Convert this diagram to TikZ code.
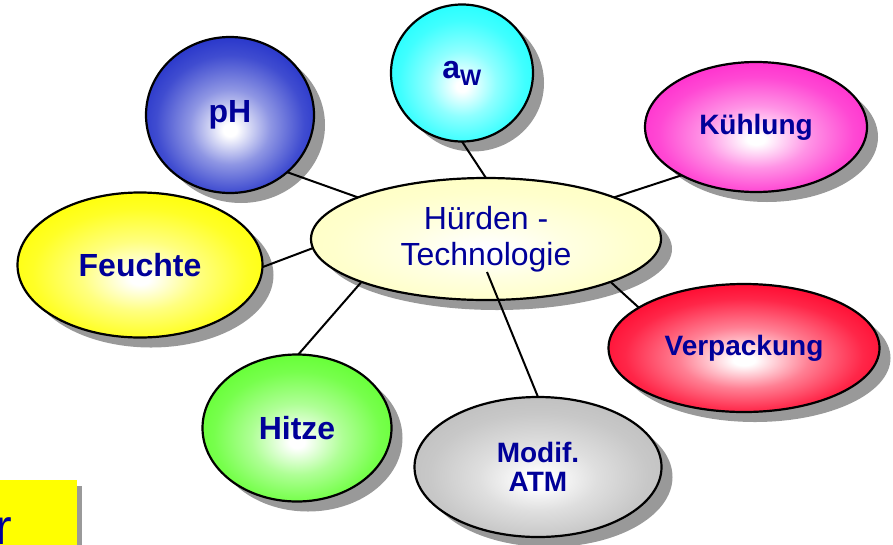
\documentclass[tikz,border=0pt]{standalone}
\usepackage{fontspec}
\setmainfont{Liberation Sans}
\usetikzlibrary{shapes.geometric,shadows}

\definecolor{txtblue}{RGB}{0,0,153}
\definecolor{shadowgray}{RGB}{153,153,153}
\definecolor{phblue}{RGB}{30,45,200}
\definecolor{awcyan}{RGB}{30,255,255}
\definecolor{coolpink}{RGB}{255,40,204}
\definecolor{wetyellow}{RGB}{255,255,0}
\definecolor{packred}{RGB}{255,0,40}
\definecolor{heatgreen}{RGB}{95,255,45}
\definecolor{atmgray}{RGB}{190,190,190}
\definecolor{hubyellow}{RGB}{255,255,195}
\colorlet{ballcol}{white}

\pgfdeclareradialshading[ballcol]{ball}{\pgfpoint{0bp}{-5bp}}{color(0bp)=(white); color(2bp)=(white); color(12bp)=(ballcol!50!white); color(22bp)=(ballcol!85!white); color(30bp)=(ballcol); color(50bp)=(ballcol)}

\begin{document}
\begin{tikzpicture}[x=1pt,y=-1pt,
    ball/.style={ellipse,draw,line width=2.2pt,inner sep=0pt,outer sep=0pt,
      shade,shading=ball,/utils/exec={\colorlet{ballcol}{#1}},
      drop shadow={shadow xshift=11pt,shadow yshift=-10pt,fill=shadowgray,opacity=1},
      text=txtblue,align=center},
    bigtxt/.style={font=\bfseries\fontsize{32}{34}\selectfont},
    midtxt/.style={font=\bfseries\fontsize{28}{29}\selectfont},
    link/.style={line width=2pt}]
    \useasboundingbox (0,0) rectangle (893,544);
    % yellow label box, cut at the lower left corner
    \fill[shadowgray] (5,486) rectangle (82,550);
    \fill[wetyellow] (-5,480) rectangle (77,550);
    \node[anchor=base east,inner sep=0pt,text=txtblue,font=\fontsize{50}{50}\selectfont] (boxtxt) at (12,544) {r};
    % centre and satellites
    \node[ball=hubyellow,minimum width=350pt,minimum height=122pt,font=\fontsize{32}{36}\selectfont] (hub) at (486,239) {Hürden -\\Technologie};
    \node[ball=phblue,bigtxt,minimum width=168pt,minimum height=156pt] (ph) at (230,115) {pH};
    \node[ball=awcyan,bigtxt,minimum width=142pt,minimum height=137pt] (aw) at (462,73) {a\textsubscript{W}};
    \node[ball=coolpink,midtxt,minimum width=222pt,minimum height=130pt] (kuehl) at (756,127) {Kühlung};
    \node[ball=wetyellow,bigtxt,minimum width=245pt,minimum height=145pt] (feucht) at (140,265) {Feuchte};
    \node[ball=packred,midtxt,minimum width=271pt,minimum height=128pt] (verp) at (744,348) {Verpackung};
    \node[ball=heatgreen,bigtxt,minimum width=189pt,minimum height=147pt] (hitze) at (297,428) {Hitze};
    \node[ball=atmgray,midtxt,minimum width=247pt,minimum height=140pt] (atm) at (538,467) {Modif.\\ATM};
    \coordinate (atmtip) at (487,272);
    % connectors
    \draw[link] (ph.-45) -- (hub.162);
    \draw[link] (aw.-90) -- (hub.90);
    \draw[link] (kuehl.-147) -- (hub.18);
    \draw[link] (feucht.-1) -- (hub.-177);
    \draw[link] (verp.159) -- (hub.-19);
    \draw[link] (hitze.89) -- (hub.-161);
    \draw[link] (atm.90) -- (atmtip);
\end{tikzpicture}
\end{document}
